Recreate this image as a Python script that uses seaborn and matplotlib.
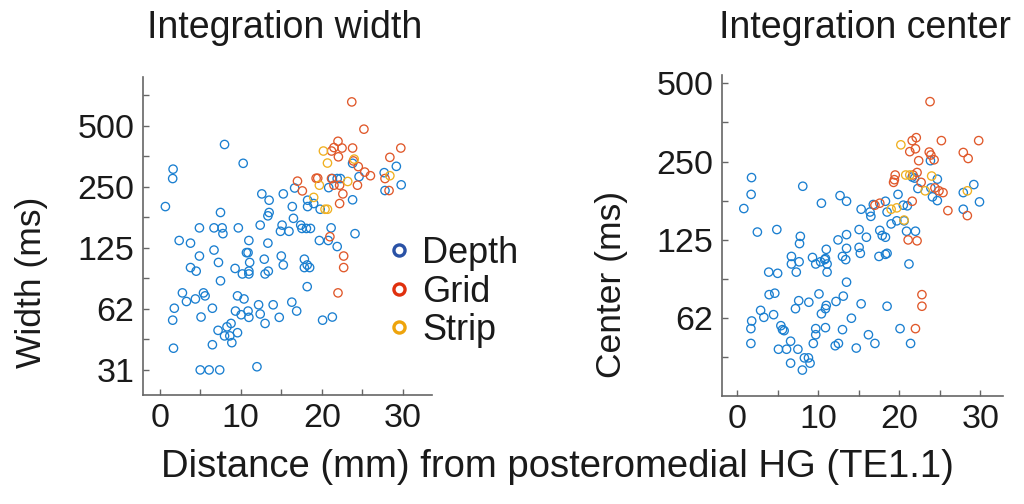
import matplotlib
matplotlib.use("Agg")
import matplotlib.pyplot as plt
import pandas as pd
import seaborn as sns
from matplotlib.lines import Line2D
from matplotlib.ticker import FixedLocator, FixedFormatter, NullFormatter

# ---------------- data ----------------
groups = ["Depth", "Grid", "Strip"]

width_depth_x = [0.7,1.65,1.6,8.0,10.3,2.4,3.8,4.9,6.7,7.7,
                 7.8,7.5,9.7,6.7,4.9,7.25,3.8,4.5,7.5,2.8,
                 5.4,5.6,3.3,4.4,1.8,1.6,5.1,6.5,1.7,5.0,
                 6.1,7.4,12.0,6.5,7.2,8.0,8.3,8.65,8.9,8.8,
                 9.6,9.35,10.05,9.6,10.4,10.9,11.0,9.3,10.2,11.0,
                 11.0,10.7,10.9,11.1,11.0,12.4,12.6,13.5,13.5,13.35,
                 13.35,12.9,13.4,13.0,12.2,12.4,13.0,14.0,14.75,15.0,
                 15.25,15.1,14.9,15.25,15.95,16.36,16.5,16.65,17.4,17.55,
                 18.1,18.6,18.25,18.25,19.0,17.85,18.2,18.5,17.85,18.2,
                 16.3,16.9,19.7,19.8,20.85,21.15,20.8,21.9,20.1,21.3,
                 23.8,24.1,23.8,24.6,21.3,21.9,22.3,27.7,29.2,29.8,
                 27.8]
width_depth_ms = [200,306,275,405,327,136,132,157,157,157,
                  147,187,157,122,114,106,100,96,86,75,
                  75,72.5,68,70,63,55,57,63,40,31.25,
                  31.25,31.25,32.4,41.6,49,46,51,46,42.6,53,
                  47.7,61,58.5,72.5,70,61,56.8,99,93,93,
                  96,118.5,118.5,106,136,162,231,215,187,180,
                  132,110,96,93,65.5,59,53,65.5,56.8,114,
                  103,162,151,231,151,200,175,247,162,156,
                  156,156,215,200,207,110,103,100,100,80.5,
                  67.5,61,136,194,248,157,136,127,55,57,
                  216,147,327,281,275,275,275,294,316,256,
                  240]
width_grid_x = [23.7,25.2,22.0,21.5,22.5,21.2,23.8,22.05,23.9,24.5,
                25.3,26.0,29.75,28.4,27.8,28.3,17.0,17.6,19.3,19.5,
                21.2,21.5,22.2,22.6,22.2,24.4,21.0,22.7,22.7,22.0]
width_grid_ms = [657,482,420,391,389,376,389,352,336,315,
                 296,284,389,350,275,240,267,239,276,276,
                 275,255,255,231,207,255,142,114,100,75]
width_strip_x = [20.2,20.7,24.0,19.7,23.2,28.4,19.0,20.4,20.7]
width_strip_ms = [376,328,343,255,266,284,222,194,194]

center_depth_x = [0.83,1.78,1.73,2.5,4.9,8.1,10.4,12.7,13.5,15.3,
                  16.4,16.5,16.8,18.3,18.5,19.85,20.5,21.0,19.7,19.0,
                  17.6,17.9,18.3,20.9,22.0,20.6,21.2,23.85,24.7,22.3,
                  21.6,21.9,23.9,24.1,24.7,27.9,29.2,29.9,27.9,15.05,
                  15.05,15.2,15.95,12.45,13.5,13.5,13.0,13.4,13.5,11.0,
                  10.8,10.9,11.1,11.1,10.3,9.7,9.3,7.8,7.7,6.7,
                  6.7,7.65,7.3,3.9,5.0,3.95,4.65,2.9,3.3,4.5,
                  1.8,1.7,1.7,5.4,5.6,5.8,5.1,6.1,6.6,7.5,
                  6.6,8.05,8.3,8.8,9.0,7.2,7.6,8.85,10.1,10.4,
                  10.9,11.0,12.2,13.1,10.9,9.7,9.7,9.4,12.1,12.5,
                  13.0,14.1,14.7,15.3,16.2,17.0,17.5,18.3,18.5,18.5,
                  20.1,21.4]
center_depth_ms = [165,217,187,134,137,201,173,185,176,164,
                   160,154,171,176,160,187,170,169,148,144,
                   136,130,128,135,135,148,101,252,214,197,
                   218,216,198,183,177,190,204,175,164,137,
                   117,111,128,125,131,116,108,105,86,115,
                   105,106,94,101,103,101,107,129,121,108,
                   101,103,94,94,93,77,78,67,63,64.5,
                   61,57,50,58.5,56.5,56,47.5,47.5,51,47.5,
                   42,39.5,44,44,42,68,73,72,77.5,65,
                   68,70,72.5,76,57.5,57,54,50,49,50,
                   56.5,62.5,48,71,54,50,108,110,111,69.5,
                   57,50]
center_grid_x = [23.8,21.6,22.1,21.3,22.0,22.4,25.2,23.7,23.9,24.3,
                 19.5,19.4,19.3,21.7,22.2,22.7,24.4,24.9,25.4,26.0,
                 27.9,28.5,29.8,28.4,17.0,17.6,21.6,21.1,22.2,22.8,
                 22.8,22.0]
center_grid_ms = [425,301,309,273,280,252,301,272,265,254,
                  222,213,208,222,227,208,198,193,190,162,
                  271,257,301,155,170,173,176,125,124,77,
                  69.5,57]
center_strip_x = [20.2,20.8,21.3,24.0,23.2,28.4,19.0,19.7,20.6]
center_strip_ms = [290,222,222,220,193,193,164,166,149]

x_ticks = [0, 10, 20, 30]
x_minor = [5, 15, 25]
width_ticks = [31.25, 62.5, 125, 250, 500]
width_labels = ["31", "62", "125", "250", "500"]
width_minor = [44.19, 88.39, 176.78, 353.55, 707.1]
center_ticks = [62.5, 125, 250, 500]
center_labels = ["62", "125", "250", "500"]
center_minor = [44.19, 88.39, 176.78, 353.55]

# ---------------- style ----------------
sns.set_theme(style="white")
plt.rcParams["font.family"] = ["Liberation Sans", "DejaVu Sans"]

data_colors = {"Depth": "#1a7fd0", "Grid": "#e0582a", "Strip": "#f0b020"}
legend_colors = {"Depth": "#2a52a6", "Grid": "#e0300e", "Strip": "#eea40c"}
spine_col = "#666666"


def make_df(series):
    frames = [pd.DataFrame({"dist": xs, "val": ys, "type": name})
              for name, xs, ys in series]
    return pd.concat(frames, ignore_index=True)


df_width = make_df([("Depth", width_depth_x, width_depth_ms),
                    ("Grid", width_grid_x, width_grid_ms),
                    ("Strip", width_strip_x, width_strip_ms)])
df_center = make_df([("Depth", center_depth_x, center_depth_ms),
                     ("Grid", center_grid_x, center_grid_ms),
                     ("Strip", center_strip_x, center_strip_ms)])

W, H = 1024, 504
fig = plt.figure(figsize=(W / 100, H / 100), dpi=100)


def px_axes(x0, y0, x1, y1):
    return fig.add_axes([x0 / W, 1 - y1 / H, (x1 - x0) / W, (y1 - y0) / H])


axL = px_axes(142.7, 77, 432, 395)
axR = px_axes(721.7, 75, 1003, 396)

panels = [
    (axL, df_width, (-2.1, 33.6), (23.5, 872), width_ticks, width_labels, width_minor),
    (axR, df_center, (-1.9, 32.8), (31.4, 538), center_ticks, center_labels, center_minor),
]

for ax, df, xl, yl, yt, ylab, ymin in panels:
    sns.scatterplot(data=df, x="dist", y="val", hue="type", hue_order=groups,
                    palette=data_colors, ax=ax, legend=False, s=36,
                    linewidth=0.95, marker="o")
    coll = ax.collections[0]
    coll.set_edgecolors(coll.get_facecolors())
    coll.set_facecolors("none")
    ax.set_yscale("log", base=2)
    ax.set_xlim(*xl)
    ax.set_ylim(*yl)
    ax.xaxis.set_major_locator(FixedLocator(x_ticks))
    ax.xaxis.set_minor_locator(FixedLocator(x_minor))
    ax.xaxis.set_major_formatter(FixedFormatter([str(v) for v in x_ticks]))
    ax.xaxis.set_minor_formatter(NullFormatter())
    ax.yaxis.set_major_locator(FixedLocator(yt))
    ax.yaxis.set_major_formatter(FixedFormatter(ylab))
    ax.yaxis.set_minor_locator(FixedLocator(ymin))
    ax.yaxis.set_minor_formatter(NullFormatter())
    ax.tick_params(which="both", direction="in", length=4, width=1.0,
                   color=spine_col, labelsize=24.5, labelcolor="#1a1a1a", pad=6)
    ax.tick_params(axis="both", which="both", left=True, bottom=True)
    for s in ["top", "right"]:
        ax.spines[s].set_visible(False)
    for s in ["left", "bottom"]:
        ax.spines[s].set_color(spine_col)
        ax.spines[s].set_linewidth(1.2)
    ax.set_xlabel("")
    ax.set_ylabel("")
    ax.set_facecolor("white")

# titles and labels
fig.text(285 / W, 1 - 28 / H, "Integration width", ha="center", va="center",
         fontsize=27, color="#1a1a1a")
fig.text(865 / W, 1 - 28 / H, "Integration center", ha="center", va="center",
         fontsize=27, color="#1a1a1a")
fig.text(557 / W, 1 - 467 / H, "Distance (mm) from posteromedial HG (TE1.1)",
         ha="center", va="center", fontsize=27.5, color="#1a1a1a")
fig.text(32 / W, 1 - 282 / H, "Width (ms)", ha="center", va="center",
         rotation=90, fontsize=25.5, color="#1a1a1a")
fig.text(611 / W, 1 - 284 / H, "Center (ms)", ha="center", va="center",
         rotation=90, fontsize=25.5, color="#1a1a1a")

# legend
handles = [Line2D([0], [0], marker="o", ls="none", mfc="none",
                  mec=legend_colors[g], mew=2.4, ms=8) for g in groups]
leg = axL.legend(handles, groups, loc="center left",
                 bbox_to_anchor=(386 / W, 1 - 292 / H),
                 bbox_transform=fig.transFigure, frameon=False,
                 fontsize=26, handlelength=0.7, handletextpad=0.3,
                 borderpad=0, borderaxespad=0, labelspacing=0.1)
for t in leg.get_texts():
    t.set_color("#1a1a1a")

fig.savefig("out.png", dpi=100, facecolor="white")
